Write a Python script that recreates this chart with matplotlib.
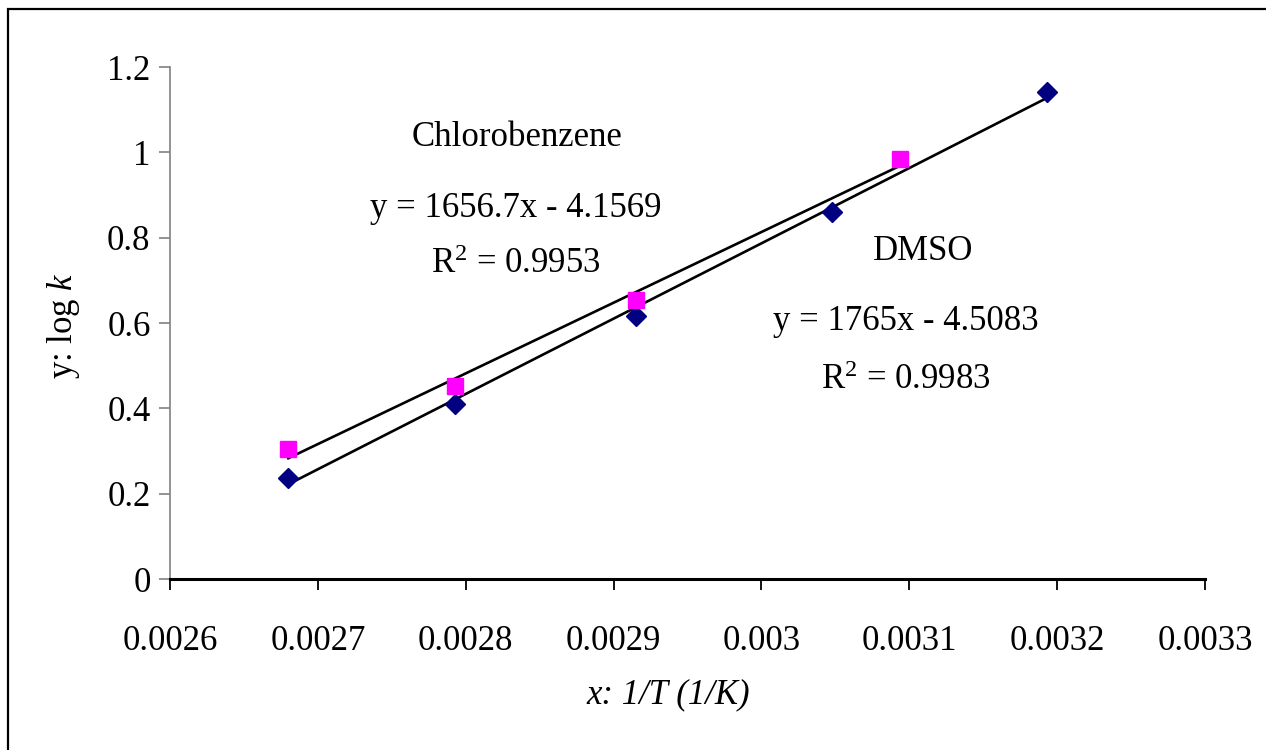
import matplotlib
matplotlib.use("Agg")
import matplotlib.pyplot as plt
from matplotlib.patches import Rectangle
import numpy as np

plt.rcParams["font.family"] = ["Liberation Serif", "DejaVu Serif"]
plt.rcParams["mathtext.fontset"] = "custom"
plt.rcParams["mathtext.rm"] = "Liberation Serif"
plt.rcParams["mathtext.it"] = "Liberation Serif:italic"

# 1/T (1/K) and log k for the two solvents
x_dmso = [0.002680, 0.002793, 0.002915, 0.003048, 0.003193]
y_dmso = [0.237, 0.410, 0.616, 0.860, 1.141]
x_chloro = [0.002680, 0.002793, 0.002915, 0.003094]
y_chloro = [0.305, 0.452, 0.655, 0.984]

# linear trendlines (slope, intercept, R^2)
fit_chloro = (1656.7, -4.1569, 0.9953)
fit_dmso = (1765.0, -4.5083, 0.9983)

x_ticks = [0.0026, 0.0027, 0.0028, 0.0029, 0.003, 0.0031, 0.0032, 0.0033]
x_ticklabels = ["0.0026", "0.0027", "0.0028", "0.0029", "0.003", "0.0031", "0.0032", "0.0033"]
y_ticks = [0, 0.2, 0.4, 0.6, 0.8, 1, 1.2]
y_ticklabels = ["0", "0.2", "0.4", "0.6", "0.8", "1", "1.2"]

W, H = 1266, 750
FS = 25

fig = plt.figure(figsize=(W / 100, H / 100), dpi=100)
ax = fig.add_axes([170 / W, 1 - 579 / H, (1205 - 170) / W, (579 - 67) / H])


def px(x, y):
    return x / W, 1 - y / H


# trendlines over each series' x range
for xs, (m, b, _) in ((x_chloro, fit_chloro), (x_dmso, fit_dmso)):
    xx = np.array([min(xs), max(xs)])
    ax.plot(xx, m * xx + b, color="black", lw=1.9, zorder=2)

ax.plot(x_dmso, y_dmso, ls="none", marker="D", ms=10.5, color="#000080",
        mec="#000080", zorder=3)
ax.plot(x_chloro, y_chloro, ls="none", marker="s", ms=11, color="#FF00FF",
        mec="#FF00FF", zorder=3)

ax.set_xlim(0.0026, 0.0033)
ax.set_ylim(0, 1.2)
ax.set_xticks(x_ticks)
ax.set_xticklabels(x_ticklabels)
ax.set_yticks(y_ticks)
ax.set_yticklabels(y_ticklabels)

for s in ("top", "right"):
    ax.spines[s].set_visible(False)
ax.spines["left"].set_color("#808080")
ax.spines["left"].set_linewidth(1.2)
ax.spines["bottom"].set_color("black")
ax.spines["bottom"].set_linewidth(2.2)
ax.tick_params(axis="x", direction="out", length=8, width=1.3, color="black",
               labelsize=FS, pad=25)
ax.tick_params(axis="y", direction="out", length=8, width=1.2, color="#808080",
               labelsize=FS, pad=6, labelcolor="black")

# solvent labels and fit equations
notes = [
    ("Chlorobenzene", 517, 146),
    ("y = %.1fx - %.4f" % (fit_chloro[0], -fit_chloro[1]), 516, 217),
    ("R$^2$ = %.4f" % fit_chloro[2], 516, 273),
    ("DMSO", 923, 260),
    ("y = %dx - %.4f" % (fit_dmso[0], -fit_dmso[1]), 906, 330),
    ("R$^2$ = %.4f" % fit_dmso[2], 906, 389),
]
for txt, x, y in notes:
    fig.text(*px(x, y), txt, ha="center", va="baseline", fontsize=FS)

fig.text(*px(64, 326), "y: log $\\mathit{k}$", rotation=90, ha="center",
         va="center", fontsize=FS)
fig.text(*px(668, 695), "x: 1/T (1/K)", ha="center", va="center",
         fontsize=FS, style="italic")

# chart frame
fig.patches.append(Rectangle(px(8, 800), 2, (800 - 9) / H, transform=fig.transFigure,
                             fill=False, ec="black", lw=1.6))

fig.savefig("out.png", dpi=100)
